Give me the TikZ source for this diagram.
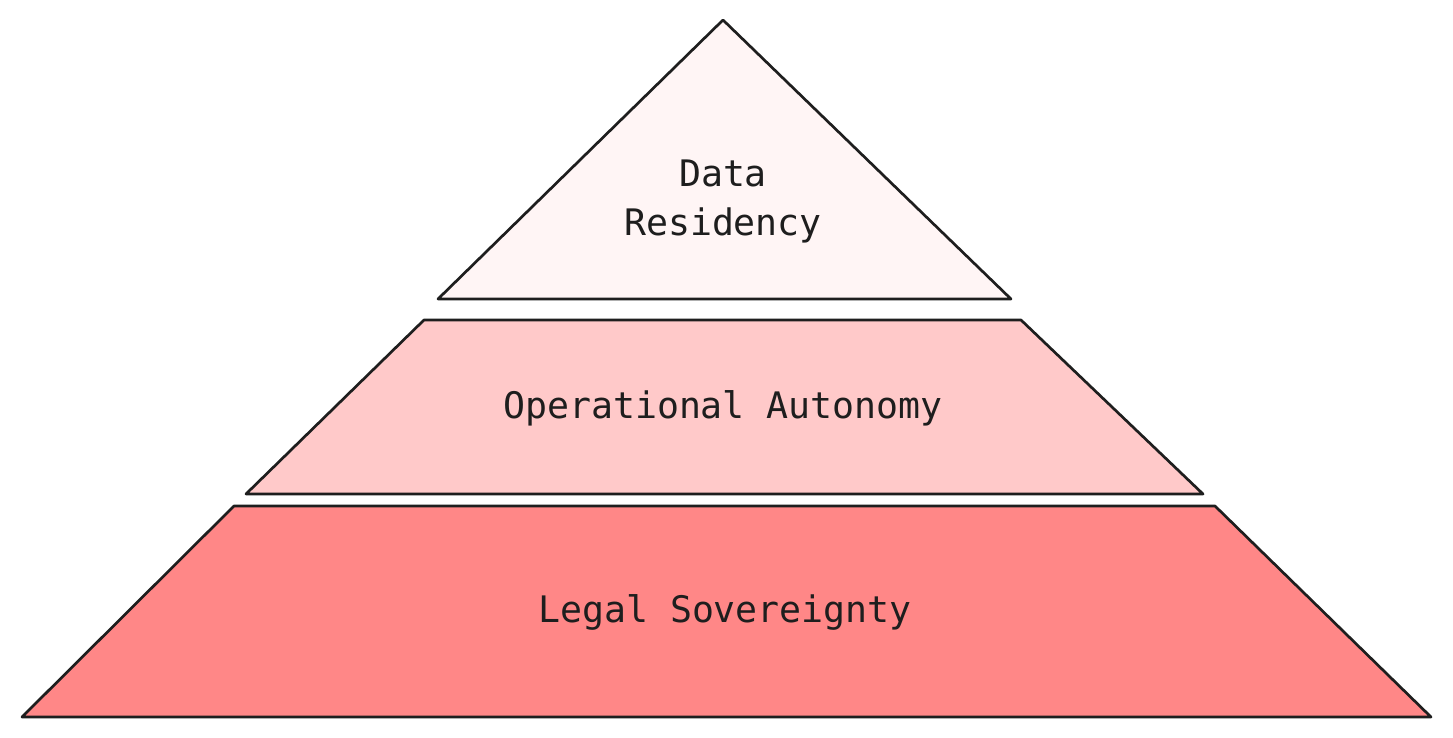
\documentclass[tikz,border=0pt]{standalone}
\usepackage{fontspec}
\setmonofont{DejaVu Sans Mono}
\definecolor{ink}{HTML}{1E1E1E}
\definecolor{tierA}{HTML}{FFF5F5}
\definecolor{tierB}{HTML}{FFC9C9}
\definecolor{tierC}{HTML}{FF8787}
\begin{document}
\begin{tikzpicture}[x=0.75pt,y=-0.75pt,
  tier/.style={draw=ink, line width=2pt, line join=round},
  lbl/.style={font=\ttfamily\fontsize{27.4}{36.75}\selectfont, text=ink, align=center}]
\useasboundingbox (0,0) rectangle (1453,738);
\fill[white] (0,0) rectangle (1453,738);
% top triangle
\draw[tier, fill=tierA] (723,20) -- (1011,299) -- (438,299) -- cycle;
% middle trapezoid
\draw[tier, fill=tierB] (424,320) -- (1021,320) -- (1203,494) -- (246,494) -- cycle;
% bottom trapezoid
\draw[tier, fill=tierC] (234,506) -- (1215,506) -- (1431,717) -- (22,717) -- cycle;
\node[lbl] (top) at (723,201) {Data\\Residency};
\node[lbl] (mid) at (723,408) {Operational Autonomy};
\node[lbl] (bot) at (725,612) {Legal Sovereignty};
\end{tikzpicture}
\end{document}
